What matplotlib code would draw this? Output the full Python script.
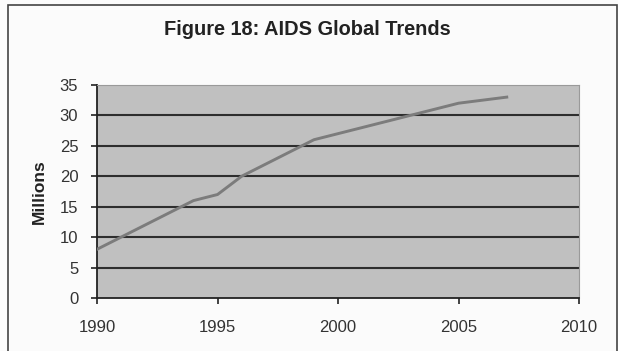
import matplotlib
matplotlib.use("Agg")
import matplotlib.pyplot as plt
from matplotlib.patches import Rectangle

years = [1990, 1991, 1992, 1993, 1994, 1995, 1996, 1997, 1998,
         1999, 2000, 2001, 2002, 2003, 2004, 2005, 2006, 2007]
millions = [8, 10, 12, 14, 16, 17, 20, 22, 24,
            26, 27, 28, 29, 30, 31, 32, 32.5, 33]

x_ticks = [1990, 1995, 2000, 2005, 2010]
y_ticks = [0, 5, 10, 15, 20, 25, 30, 35]

TITLE = "Figure 18: AIDS Global Trends"
Y_LABEL = "Millions"

plt.rcParams["font.family"] = ["Liberation Sans", "DejaVu Sans"]

fig = plt.figure(figsize=(6.18, 3.51), dpi=100, facecolor="#fbfbfb")

# outer chart frame (bottom edge runs off the canvas)
fig.patches.append(Rectangle((0.013, -0.05), 0.985, 1.036, transform=fig.transFigure,
                             fill=False, edgecolor="#444444", linewidth=1.2))

ax = fig.add_axes([0.157, 0.151, 0.78, 0.607])
ax.set_facecolor("#c0c0c0")

for y in y_ticks[1:-1]:
    ax.axhline(y, color="#2e2e2e", linewidth=1.5, zorder=1)

ax.plot(years, millions, color="#7c7c7c", linewidth=2.1, zorder=3)

ax.set_xlim(1990, 2010)
ax.set_ylim(0, 35)
ax.set_xticks(x_ticks)
ax.set_yticks(y_ticks)

ax.spines["left"].set_color("#222222")
ax.spines["bottom"].set_color("#222222")
ax.spines["left"].set_linewidth(1.3)
ax.spines["bottom"].set_linewidth(1.3)
ax.spines["top"].set_color("#9a9a9a")
ax.spines["right"].set_color("#9a9a9a")

ax.tick_params(axis="both", direction="out", length=4.5, width=1.2,
               color="#222222", labelsize=12, labelcolor="#333333")
ax.tick_params(axis="x", pad=11)
ax.tick_params(axis="y", pad=9)

ax.set_ylabel(Y_LABEL, fontsize=12.5, fontweight="bold", color="#222222", labelpad=9)
fig.text(0.497, 0.900, TITLE, ha="center", va="baseline",
         fontsize=14.4, fontweight="bold", color="#222222")

fig.savefig("out.png", dpi=100, facecolor=fig.get_facecolor())
